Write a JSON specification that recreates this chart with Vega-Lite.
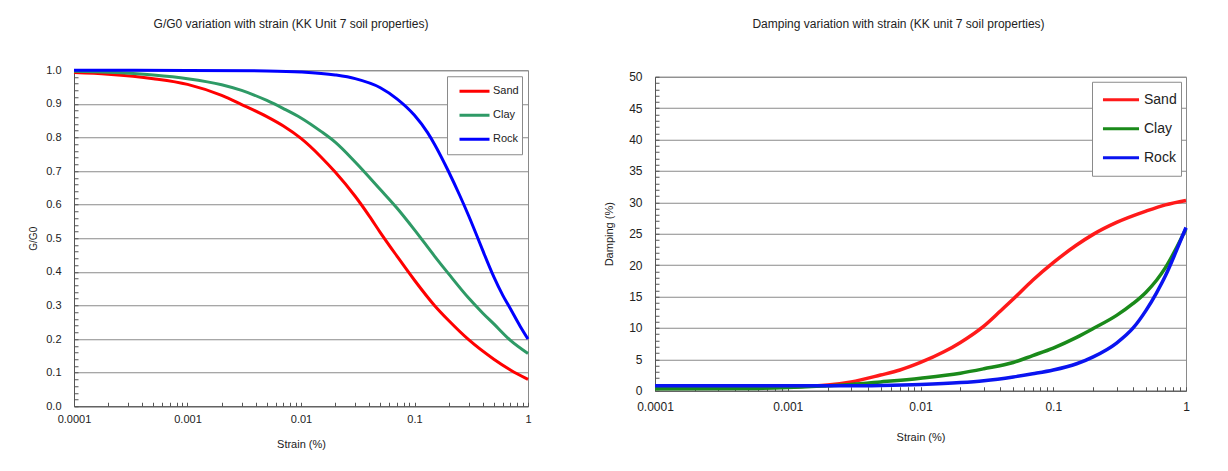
{
  "$schema": "https://vega.github.io/schema/vega-lite/v6.json",
  "background": "white",
  "padding": {"left": 28, "top": 17, "right": 5, "bottom": 5},
  "config": {
    "font": "Liberation Sans",
    "view": {"stroke": "#8a8a8a", "strokeWidth": 1},
    "title": {"fontSize": 12, "fontWeight": "normal", "color": "#222222", "font": "Liberation Sans"},
    "axis": {
      "labelFontSize": 11, "labelColor": "#222222", "labelFont": "Liberation Sans",
      "titleFontSize": 11, "titleFontWeight": "normal", "titleColor": "#222222", "titleFont": "Liberation Sans",
      "tickColor": "#555555", "tickSize": -4, "domainColor": "#555555",
      "gridColor": "#8a8a8a", "gridWidth": 1, "labelFlush": false, "labelOverlap": false
    },
    "legend": {
      "labelFont": "Liberation Sans", "labelColor": "#222222",
      "strokeColor": "#8a8a8a", "fillColor": "white",
      "symbolType": "stroke", "symbolStrokeWidth": 3
    }
  },
  "datasets": {
    "gg0": [
      {"strain": 0.0001, "soil": "Sand", "value": 0.993},
      {"strain": 0.0002, "soil": "Sand", "value": 0.988},
      {"strain": 0.0005, "soil": "Sand", "value": 0.975},
      {"strain": 0.001, "soil": "Sand", "value": 0.958},
      {"strain": 0.002, "soil": "Sand", "value": 0.925},
      {"strain": 0.003, "soil": "Sand", "value": 0.898},
      {"strain": 0.005, "soil": "Sand", "value": 0.862},
      {"strain": 0.007, "soil": "Sand", "value": 0.834},
      {"strain": 0.01, "soil": "Sand", "value": 0.797},
      {"strain": 0.015, "soil": "Sand", "value": 0.742},
      {"strain": 0.02, "soil": "Sand", "value": 0.697},
      {"strain": 0.03, "soil": "Sand", "value": 0.625},
      {"strain": 0.04, "soil": "Sand", "value": 0.566},
      {"strain": 0.05, "soil": "Sand", "value": 0.517},
      {"strain": 0.07, "soil": "Sand", "value": 0.447},
      {"strain": 0.1, "soil": "Sand", "value": 0.375},
      {"strain": 0.15, "soil": "Sand", "value": 0.30},
      {"strain": 0.2, "soil": "Sand", "value": 0.255},
      {"strain": 0.3, "soil": "Sand", "value": 0.198},
      {"strain": 0.5, "soil": "Sand", "value": 0.14},
      {"strain": 0.7, "soil": "Sand", "value": 0.108},
      {"strain": 1, "soil": "Sand", "value": 0.08},
      {"strain": 0.0001, "soil": "Clay", "value": 0.997},
      {"strain": 0.0002, "soil": "Clay", "value": 0.994},
      {"strain": 0.0005, "soil": "Clay", "value": 0.986},
      {"strain": 0.001, "soil": "Clay", "value": 0.975},
      {"strain": 0.002, "soil": "Clay", "value": 0.957},
      {"strain": 0.003, "soil": "Clay", "value": 0.94},
      {"strain": 0.005, "soil": "Clay", "value": 0.91},
      {"strain": 0.007, "soil": "Clay", "value": 0.886},
      {"strain": 0.01, "soil": "Clay", "value": 0.858},
      {"strain": 0.015, "soil": "Clay", "value": 0.818},
      {"strain": 0.02, "soil": "Clay", "value": 0.786},
      {"strain": 0.03, "soil": "Clay", "value": 0.727},
      {"strain": 0.05, "soil": "Clay", "value": 0.645},
      {"strain": 0.07, "soil": "Clay", "value": 0.59},
      {"strain": 0.1, "soil": "Clay", "value": 0.525},
      {"strain": 0.15, "soil": "Clay", "value": 0.447},
      {"strain": 0.2, "soil": "Clay", "value": 0.394},
      {"strain": 0.3, "soil": "Clay", "value": 0.322},
      {"strain": 0.4, "soil": "Clay", "value": 0.277},
      {"strain": 0.5, "soil": "Clay", "value": 0.245},
      {"strain": 0.7, "soil": "Clay", "value": 0.196},
      {"strain": 1, "soil": "Clay", "value": 0.157},
      {"strain": 0.0001, "soil": "Rock", "value": 1.0},
      {"strain": 0.001, "soil": "Rock", "value": 0.9995},
      {"strain": 0.005, "soil": "Rock", "value": 0.998},
      {"strain": 0.01, "soil": "Rock", "value": 0.995},
      {"strain": 0.02, "soil": "Rock", "value": 0.986},
      {"strain": 0.03, "soil": "Rock", "value": 0.975},
      {"strain": 0.05, "soil": "Rock", "value": 0.948},
      {"strain": 0.07, "soil": "Rock", "value": 0.915},
      {"strain": 0.1, "soil": "Rock", "value": 0.866},
      {"strain": 0.13, "soil": "Rock", "value": 0.815},
      {"strain": 0.15, "soil": "Rock", "value": 0.78},
      {"strain": 0.2, "soil": "Rock", "value": 0.698},
      {"strain": 0.25, "soil": "Rock", "value": 0.628},
      {"strain": 0.3, "soil": "Rock", "value": 0.567},
      {"strain": 0.35, "soil": "Rock", "value": 0.512},
      {"strain": 0.4, "soil": "Rock", "value": 0.463},
      {"strain": 0.5, "soil": "Rock", "value": 0.385},
      {"strain": 0.6, "soil": "Rock", "value": 0.33},
      {"strain": 0.7, "soil": "Rock", "value": 0.29},
      {"strain": 0.85, "soil": "Rock", "value": 0.239},
      {"strain": 1, "soil": "Rock", "value": 0.2}
    ],
    "damp": [
      {"strain": 0.0001, "soil": "Sand", "value": 0.5},
      {"strain": 0.0005, "soil": "Sand", "value": 0.5},
      {"strain": 0.001, "soil": "Sand", "value": 0.6},
      {"strain": 0.002, "soil": "Sand", "value": 0.9},
      {"strain": 0.003, "soil": "Sand", "value": 1.4},
      {"strain": 0.005, "soil": "Sand", "value": 2.5},
      {"strain": 0.007, "soil": "Sand", "value": 3.3},
      {"strain": 0.01, "soil": "Sand", "value": 4.5},
      {"strain": 0.015, "soil": "Sand", "value": 6.2},
      {"strain": 0.02, "soil": "Sand", "value": 7.7},
      {"strain": 0.03, "soil": "Sand", "value": 10.3},
      {"strain": 0.04, "soil": "Sand", "value": 12.7},
      {"strain": 0.05, "soil": "Sand", "value": 14.6},
      {"strain": 0.07, "soil": "Sand", "value": 17.6},
      {"strain": 0.1, "soil": "Sand", "value": 20.4},
      {"strain": 0.15, "soil": "Sand", "value": 23.2},
      {"strain": 0.2, "soil": "Sand", "value": 24.9},
      {"strain": 0.3, "soil": "Sand", "value": 26.8},
      {"strain": 0.5, "soil": "Sand", "value": 28.6},
      {"strain": 0.7, "soil": "Sand", "value": 29.6},
      {"strain": 1, "soil": "Sand", "value": 30.3},
      {"strain": 0.0001, "soil": "Clay", "value": 0.3},
      {"strain": 0.0005, "soil": "Clay", "value": 0.35},
      {"strain": 0.001, "soil": "Clay", "value": 0.5},
      {"strain": 0.002, "soil": "Clay", "value": 0.8},
      {"strain": 0.003, "soil": "Clay", "value": 1.0},
      {"strain": 0.005, "soil": "Clay", "value": 1.4},
      {"strain": 0.01, "soil": "Clay", "value": 2.0},
      {"strain": 0.02, "soil": "Clay", "value": 2.8},
      {"strain": 0.03, "soil": "Clay", "value": 3.5},
      {"strain": 0.05, "soil": "Clay", "value": 4.5},
      {"strain": 0.07, "soil": "Clay", "value": 5.6},
      {"strain": 0.1, "soil": "Clay", "value": 6.8},
      {"strain": 0.15, "soil": "Clay", "value": 8.5},
      {"strain": 0.2, "soil": "Clay", "value": 9.9},
      {"strain": 0.3, "soil": "Clay", "value": 12.0},
      {"strain": 0.4, "soil": "Clay", "value": 13.9},
      {"strain": 0.5, "soil": "Clay", "value": 15.7},
      {"strain": 0.6, "soil": "Clay", "value": 17.6},
      {"strain": 0.7, "soil": "Clay", "value": 19.6},
      {"strain": 0.85, "soil": "Clay", "value": 22.8},
      {"strain": 1, "soil": "Clay", "value": 25.8},
      {"strain": 0.0001, "soil": "Rock", "value": 0.8},
      {"strain": 0.001, "soil": "Rock", "value": 0.8},
      {"strain": 0.003, "soil": "Rock", "value": 0.8},
      {"strain": 0.005, "soil": "Rock", "value": 0.85},
      {"strain": 0.01, "soil": "Rock", "value": 1.0},
      {"strain": 0.02, "soil": "Rock", "value": 1.3},
      {"strain": 0.03, "soil": "Rock", "value": 1.6},
      {"strain": 0.05, "soil": "Rock", "value": 2.2},
      {"strain": 0.07, "soil": "Rock", "value": 2.7},
      {"strain": 0.1, "soil": "Rock", "value": 3.3},
      {"strain": 0.15, "soil": "Rock", "value": 4.3},
      {"strain": 0.2, "soil": "Rock", "value": 5.4},
      {"strain": 0.3, "soil": "Rock", "value": 7.6},
      {"strain": 0.4, "soil": "Rock", "value": 10.0},
      {"strain": 0.5, "soil": "Rock", "value": 12.8},
      {"strain": 0.6, "soil": "Rock", "value": 15.6},
      {"strain": 0.7, "soil": "Rock", "value": 18.3},
      {"strain": 0.85, "soil": "Rock", "value": 22.4},
      {"strain": 1, "soil": "Rock", "value": 26.0}
    ]
  },
  "spacing": 68,
  "center": true,
  "resolve": {"scale": {"color": "independent"}, "legend": {"color": "independent"}},
  "hconcat": [
    {
      "width": 454,
      "height": 336,
      "title": {"text": "G/G0 variation  with strain (KK Unit 7 soil properties)", "offset": 33, "dx": -10},
      "data": {"name": "gg0"},
      "mark": {"type": "line", "strokeWidth": 3, "interpolate": "monotone"},
      "encoding": {
        "x": {
          "field": "strain", "type": "quantitative",
          "scale": {"type": "log", "domain": [0.0001, 1]},
          "axis": {
            "title": "Strain (%)", "titlePadding": 14, "labelPadding": 11, "grid": false,
            "values": [0.0001,0.0002,0.0003,0.0004,0.0005,0.0006,0.0007,0.0008,0.0009,0.001,0.002,0.003,0.004,0.005,0.006,0.007,0.008,0.009,0.01,0.02,0.03,0.04,0.05,0.06,0.07,0.08,0.09,0.1,0.2,0.3,0.4,0.5,0.6,0.7,0.8,0.9,1],
            "labelExpr": "indexof([0.0001,0.001,0.01,0.1,1], datum.value) >= 0 ? format(datum.value, '~g') : ''"
          }
        },
        "y": {
          "field": "value", "type": "quantitative",
          "scale": {"domain": [0, 1], "nice": false},
          "axis": {
            "title": "G/G0", "titleFontSize": 10, "titlePadding": 7, "labelPadding": 17,
            "values": [0,0.02,0.04,0.06,0.08,0.1,0.12,0.14,0.16,0.18,0.2,0.22,0.24,0.26,0.28,0.3,0.32,0.34,0.36,0.38,0.4,0.42,0.44,0.46,0.48,0.5,0.52,0.54,0.56,0.58,0.6,0.62,0.64,0.66,0.68,0.7,0.72,0.74,0.76,0.78,0.8,0.82,0.84,0.86,0.88,0.9,0.92,0.94,0.96,0.98,1],
            "labelExpr": "abs(datum.value*10 - round(datum.value*10)) < 0.000001 ? format(datum.value, '.1f') : ''",
            "gridOpacity": {"condition": {"test": "abs(datum.value*10 - round(datum.value*10)) < 0.000001", "value": 1}, "value": 0}
          }
        },
        "color": {
          "field": "soil", "type": "nominal",
          "scale": {"domain": ["Sand", "Clay", "Rock"], "range": ["#ff0000", "#2e9a66", "#0000ff"]},
          "legend": {
            "title": null, "orient": "top-right", "offset": 6, "padding": 3,
            "symbolSize": 900, "clipHeight": 24, "rowPadding": 0, "symbolOffset": 8,
            "labelFontSize": 11, "labelOffset": 2
          }
        }
      }
    },
    {
      "width": 531,
      "height": 314,
      "title": {"text": "Damping variation with strain (KK unit 7 soil properties)", "offset": 40, "dx": -22},
      "data": {"name": "damp"},
      "mark": {"type": "line", "strokeWidth": 3.5, "interpolate": "monotone"},
      "encoding": {
        "x": {
          "field": "strain", "type": "quantitative",
          "scale": {"type": "log", "domain": [0.0001, 1]},
          "axis": {
            "title": "Strain (%)", "titlePadding": 19, "labelPadding": 15, "labelFontSize": 12, "grid": false,
            "values": [0.0001,0.0002,0.0003,0.0004,0.0005,0.0006,0.0007,0.0008,0.0009,0.001,0.002,0.003,0.004,0.005,0.006,0.007,0.008,0.009,0.01,0.02,0.03,0.04,0.05,0.06,0.07,0.08,0.09,0.1,0.2,0.3,0.4,0.5,0.6,0.7,0.8,0.9,1],
            "labelExpr": "indexof([0.0001,0.001,0.01,0.1,1], datum.value) >= 0 ? format(datum.value, '~g') : ''"
          }
        },
        "y": {
          "field": "value", "type": "quantitative",
          "scale": {"domain": [0, 50], "nice": false},
          "axis": {
            "title": "Damping (%)", "titleFontSize": 11, "titlePadding": 14, "labelPadding": 17, "labelFontSize": 12,
            "values": [0,1,2,3,4,5,6,7,8,9,10,11,12,13,14,15,16,17,18,19,20,21,22,23,24,25,26,27,28,29,30,31,32,33,34,35,36,37,38,39,40,41,42,43,44,45,46,47,48,49,50],
            "labelExpr": "datum.value % 5 == 0 ? format(datum.value, 'd') : ''",
            "gridOpacity": {"condition": {"test": "datum.value % 5 == 0", "value": 1}, "value": 0}
          }
        },
        "color": {
          "field": "soil", "type": "nominal",
          "scale": {"domain": ["Sand", "Clay", "Rock"], "range": ["#ff1a1a", "#1a8a1a", "#0a14f0"]},
          "legend": {
            "title": null, "orient": "top-right", "offset": 5, "padding": 4,
            "symbolSize": 1300, "clipHeight": 28, "rowPadding": 1, "symbolOffset": 5,
            "labelFontSize": 14, "labelOffset": 3
          }
        }
      }
    }
  ]
}
